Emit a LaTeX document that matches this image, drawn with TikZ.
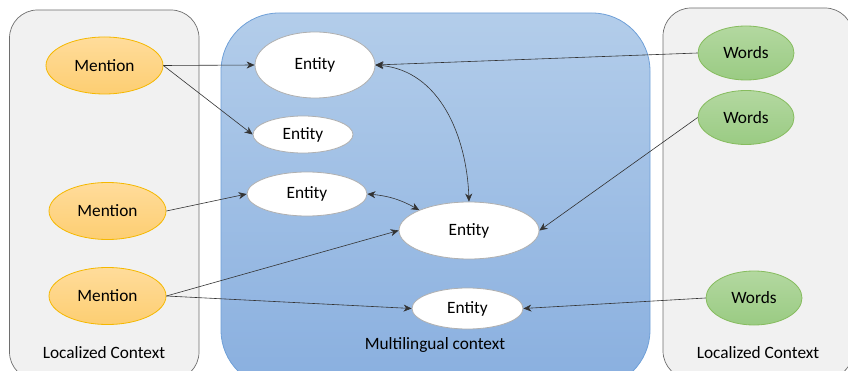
\documentclass[tikz,border=0pt]{standalone}
\usepackage{fontspec}
\setmainfont{Carlito}
\usetikzlibrary{arrows.meta,shapes.geometric}
\definecolor{ctxfill}{HTML}{F1F1F1}
\definecolor{ctxline}{HTML}{6E6E6E}
\definecolor{bluetop}{HTML}{B3CDEA}
\definecolor{bluebot}{HTML}{89AFDF}
\definecolor{blueline}{HTML}{6FA0D8}
\definecolor{mtop}{HTML}{FFDC9B}
\definecolor{mbot}{HTML}{FDCE72}
\definecolor{mline}{HTML}{F5B800}
\definecolor{wtop}{HTML}{B3D8A0}
\definecolor{wbot}{HTML}{9ACB83}
\definecolor{wline}{HTML}{86BC5E}
\definecolor{eline}{HTML}{B0B0B0}
\definecolor{linkc}{HTML}{333333}
\tikzset{
  txt/.style={font=\fontsize{17.3}{20}\selectfont, text=black},
  ctxbox/.style={draw=ctxline, fill=ctxfill, line width=0.7pt, rounded corners=28pt},
  multibox/.style={draw=blueline, top color=bluetop, bottom color=bluebot, line width=0.8pt, rounded corners=58pt},
  mention/.style={ellipse, txt, inner sep=0pt, draw=mline, top color=mtop, bottom color=mbot, line width=0.8pt, minimum width=117pt, minimum height=57pt},
  words/.style={ellipse, txt, inner sep=0pt, draw=wline, top color=wtop, bottom color=wbot, line width=0.8pt, minimum width=96pt, minimum height=54pt},
  entity/.style={ellipse, txt, inner sep=0pt, draw=eline, fill=white, line width=0.8pt},
  link/.style={draw=linkc, line width=0.6pt, -{Stealth[length=8pt,width=7pt,inset=2.5pt]}},
  dlink/.style={draw=linkc, line width=0.6pt, {Stealth[length=8pt,width=7pt,inset=2.5pt]}-{Stealth[length=8pt,width=7pt,inset=2.5pt]}},
}
\begin{document}
\begin{tikzpicture}[x=1pt,y=-1pt]
\useasboundingbox (0,0) rectangle (848,371);
\begin{scope}
  \clip (0,0) rectangle (848,371);
  \path[ctxbox] (9.5,10) rectangle (199,380);
  \path[multibox] (221,13) rectangle (650,388);
  \path[ctxbox] (663,8) rectangle (853,379);
\end{scope}

\node[mention] (m1) at (104.5,65.5) {Mention};
\node[mention] (m2) at (107.5,211) {Mention};
\node[mention] (m3) at (107.5,296) {Mention};

\node[entity, minimum width=120pt, minimum height=66pt] (e1) at (315,65) {Entity};
\node[entity, minimum width=100pt, minimum height=37pt] (e2) at (303,134.5) {Entity};
\node[entity, minimum width=120pt, minimum height=44pt] (e3) at (307,194) {Entity};
\node[entity, minimum width=140pt, minimum height=57pt] (e4) at (469,230.5) {Entity};
\node[entity, minimum width=111pt, minimum height=41pt] (e5) at (467.5,308.5) {Entity};

\node[words] (w1) at (746,53) {Words};
\node[words] (w2) at (746,117.5) {Words};
\node[words] (w3) at (754,298) {Words};

\node[txt] (lc1) at (104,353) {Localized Context};
\node[txt] (ml) at (435,345) {Multilingual context};
\node[txt] (lc2) at (758,353) {Localized Context};

\draw[link] (m1.east) -- (e1.west);
\draw[link] (m1.east) -- (e2.west);
\draw[link] (m2.east) -- (e3.west);
\draw[link] (m3.east) -- (e4.west);
\draw[link] (m3.east) -- (e5.west);
\draw[link] (w1.west) -- (e1.east);
\draw[link] (w2.west) -- (e4.east);
\draw[link] (w3.west) -- (e5.east);
\draw[dlink] (e1.east) to[out=-5,in=92] (e4.north);
\draw[dlink] (e3.east) to[bend left=12] (e4.north west);
\end{tikzpicture}
\end{document}
